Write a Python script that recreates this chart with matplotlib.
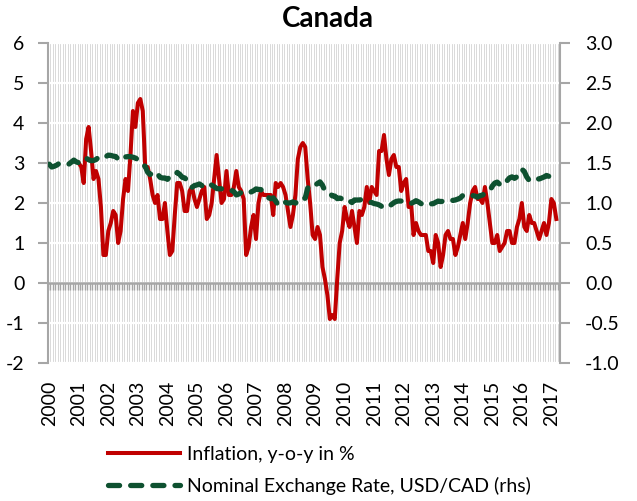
import numpy as np
import matplotlib
matplotlib.use("Agg")
import matplotlib.pyplot as plt

plt.rcParams['font.family'] = ['Lato', 'DejaVu Sans']
plt.rcParams['axes.unicode_minus'] = False

# Monthly categories Jan 2000 .. Apr 2017
years = list(range(2000, 2018))
n_months = 208

# Inflation y-o-y in % (Jan 2001 .. Mar 2017)
inflation_start = 12
inflation = [
    3.0, 2.9, 2.5, 3.6, 3.9, 3.3, 2.6, 2.8, 2.6, 1.9, 0.7, 0.7,   # 2001
    1.3, 1.5, 1.8, 1.7, 1.0, 1.3, 2.1, 2.6, 2.3, 3.2, 4.3, 3.9,   # 2002
    4.5, 4.6, 4.3, 2.9, 2.9, 2.6, 2.2, 2.0, 2.2, 1.6, 1.6, 2.0,   # 2003
    1.3, 0.7, 0.8, 1.7, 2.5, 2.5, 2.3, 1.8, 1.8, 2.3, 2.4, 2.1,   # 2004
    1.9, 2.1, 2.3, 2.4, 1.6, 1.7, 2.0, 2.6, 3.2, 2.6, 2.0, 2.1,   # 2005
    2.8, 2.2, 2.2, 2.4, 2.8, 2.4, 2.3, 2.1, 0.7, 0.9, 1.4, 1.7,   # 2006
    1.1, 2.0, 2.3, 2.2, 2.2, 2.2, 2.2, 1.7, 2.5, 2.4, 2.5, 2.4,   # 2007
    2.2, 1.8, 1.4, 1.7, 2.2, 3.1, 3.4, 3.5, 3.4, 2.6, 2.0, 1.2,   # 2008
    1.1, 1.4, 1.2, 0.4, 0.1, -0.3, -0.9, -0.8, -0.9, 0.1, 1.0, 1.3,  # 2009
    1.9, 1.6, 1.4, 1.8, 1.4, 1.0, 1.8, 1.7, 1.9, 2.4, 2.0, 2.4,   # 2010
    2.3, 2.2, 3.3, 3.3, 3.7, 3.1, 2.7, 3.1, 3.2, 2.9, 2.9, 2.3,   # 2011
    2.5, 2.6, 1.9, 2.0, 1.2, 1.5, 1.3, 1.2, 1.2, 1.2, 0.8, 0.8,   # 2012
    0.5, 1.2, 1.0, 0.4, 0.7, 1.2, 1.3, 1.1, 1.1, 0.7, 0.9, 1.2,   # 2013
    1.5, 1.1, 1.5, 2.0, 2.3, 2.4, 2.1, 2.1, 2.0, 2.4, 2.0, 1.5,   # 2014
    1.0, 1.0, 1.2, 0.8, 0.9, 1.0, 1.3, 1.3, 1.0, 1.0, 1.4, 1.6,   # 2015
    2.0, 1.4, 1.3, 1.7, 1.5, 1.5, 1.3, 1.1, 1.3, 1.5, 1.2, 1.5,   # 2016
    2.1, 2.0, 1.6,                                                # 2017
]

# Nominal exchange rate USD/CAD (Jan 2000 .. Mar 2017)
fx_start = 0
fx = [
    1.485, 1.450, 1.459, 1.473, 1.494, 1.481, 1.479, 1.482, 1.487, 1.512, 1.536, 1.514,  # 2000
    1.502, 1.523, 1.558, 1.561, 1.541, 1.529, 1.531, 1.543, 1.571, 1.572, 1.592, 1.579,  # 2001
    1.598, 1.595, 1.586, 1.581, 1.549, 1.533, 1.539, 1.576, 1.580, 1.580, 1.572, 1.562,  # 2002
    1.543, 1.515, 1.476, 1.458, 1.384, 1.356, 1.382, 1.396, 1.363, 1.322, 1.312, 1.313,  # 2003
    1.296, 1.330, 1.328, 1.343, 1.382, 1.358, 1.322, 1.313, 1.288, 1.248, 1.196, 1.218,  # 2004
    1.226, 1.238, 1.217, 1.236, 1.255, 1.241, 1.223, 1.205, 1.181, 1.177, 1.178, 1.165,  # 2005
    1.156, 1.148, 1.158, 1.142, 1.101, 1.112, 1.132, 1.119, 1.115, 1.128, 1.138, 1.153,  # 2006
    1.176, 1.170, 1.167, 1.135, 1.098, 1.067, 1.054, 1.064, 1.025, 0.975, 0.965, 0.998,  # 2007
    1.008, 0.999, 1.002, 1.014, 0.999, 1.016, 1.011, 1.056, 1.060, 1.186, 1.219, 1.238,  # 2008
    1.222, 1.244, 1.264, 1.222, 1.151, 1.132, 1.119, 1.089, 1.086, 1.055, 1.062, 1.052,  # 2009
    1.044, 1.055, 1.024, 1.006, 1.038, 1.037, 1.038, 1.043, 1.034, 1.019, 1.013, 1.006,  # 2010
    0.993, 0.987, 0.977, 0.958, 0.968, 0.977, 0.956, 0.980, 1.004, 1.020, 1.025, 1.024,  # 2011
    1.014, 0.996, 0.993, 0.995, 1.010, 1.029, 1.014, 0.993, 0.978, 0.992, 0.999, 0.989,  # 2012
    0.992, 1.009, 1.024, 1.018, 1.021, 1.030, 1.040, 1.040, 1.032, 1.038, 1.049, 1.063,  # 2013
    1.094, 1.106, 1.111, 1.100, 1.093, 1.086, 1.073, 1.091, 1.099, 1.121, 1.133, 1.153,  # 2014
    1.212, 1.249, 1.261, 1.233, 1.216, 1.235, 1.279, 1.314, 1.327, 1.308, 1.328, 1.371,  # 2015
    1.422, 1.393, 1.325, 1.282, 1.295, 1.290, 1.305, 1.300, 1.312, 1.325, 1.344, 1.333,  # 2016
    1.319, 1.310, 1.338,                                                                  # 2017
]

title = "Canada"
label_infl = "Inflation, y-o-y in %"
label_fx = "Nominal Exchange Rate, USD/CAD (rhs)"

RED = "#C00000"
GREEN = "#0E5130"
GRAY = "#A6A6A6"

W, H = 637, 501
fig = plt.figure(figsize=(W / 100, H / 100), dpi=100)
L, R, T, B = 48, 560, 43, 363
ax = fig.add_axes([L / W, 1 - B / H, (R - L) / W, (B - T) / H])
ax2 = ax.twinx()

x_infl = np.arange(len(inflation)) + inflation_start
x_fx = np.arange(len(fx)) + fx_start

ax.set_xlim(-0.5, n_months - 0.5)
ax.set_ylim(-2, 6)
ax2.set_ylim(-1, 3)

# monthly vertical grid
bounds = np.arange(n_months + 1) - 0.5
ax.vlines(bounds, -2, 6, color="#D9D9D9", lw=0.7, zorder=0.2)
# horizontal white grid
ax.set_yticks(range(-2, 7))
ax.set_axisbelow(True)
ax.yaxis.grid(True, color="white", lw=1.6)
ax.xaxis.grid(False)

# zero axis with monthly tick marks
ax.vlines(bounds, -0.17, 0, color=GRAY, lw=1.0, zorder=1)
ax.axhline(0, color=GRAY, lw=1.8, zorder=1.1)

ax.plot(x_infl, inflation, color=RED, lw=2.9, zorder=3, label=label_infl,
        solid_joinstyle="round")
ax2.plot(x_fx, fx, color=GREEN, lw=3.8, linestyle=(0, (2.1, 2.1)),
         dash_capstyle="round", zorder=3, label=label_fx)

year_pos = [(y - 2000) * 12 for y in years]
ax.set_xticks(year_pos)
ax.set_xticklabels([str(y) for y in years], rotation=90, fontsize=14)
ax.tick_params(axis="x", length=0, pad=13)
ax.set_yticklabels([str(v) for v in range(-2, 7)], fontsize=14)
ax.tick_params(axis="y", direction="out", length=7, width=1.5, color=GRAY, pad=10)

r_ticks = np.arange(-1.0, 3.01, 0.5)
ax2.set_yticks(r_ticks)
ax2.set_yticklabels([f"{v:.1f}" for v in r_ticks], fontsize=14)
ax2.tick_params(axis="y", direction="out", length=7, width=1.5, color=GRAY, pad=11)

for a in (ax, ax2):
    a.spines["top"].set_visible(False)
    a.spines["bottom"].set_visible(False)
ax.spines["right"].set_visible(False)
ax2.spines["left"].set_visible(False)
ax.spines["left"].set_color(GRAY)
ax.spines["left"].set_linewidth(1.5)
ax2.spines["right"].set_color(GRAY)
ax2.spines["right"].set_linewidth(1.5)
ax.patch.set_alpha(0)

fig.text(328 / W, 1 - 27 / H, title, ha="center", va="baseline",
         fontsize=20, fontweight="bold")

h1, l1 = ax.get_legend_handles_labels()
h2, l2 = ax2.get_legend_handles_labels()
fig.legend(h1 + h2, l1 + l2, loc="upper left",
           bbox_to_anchor=(108 / W, 1 - 446 / H), bbox_transform=fig.transFigure,
           frameon=False, fontsize=14, handlelength=3.7, handletextpad=0.38,
           labelspacing=0.72, borderpad=0, borderaxespad=0)

fig.savefig("out.png", dpi=100)
